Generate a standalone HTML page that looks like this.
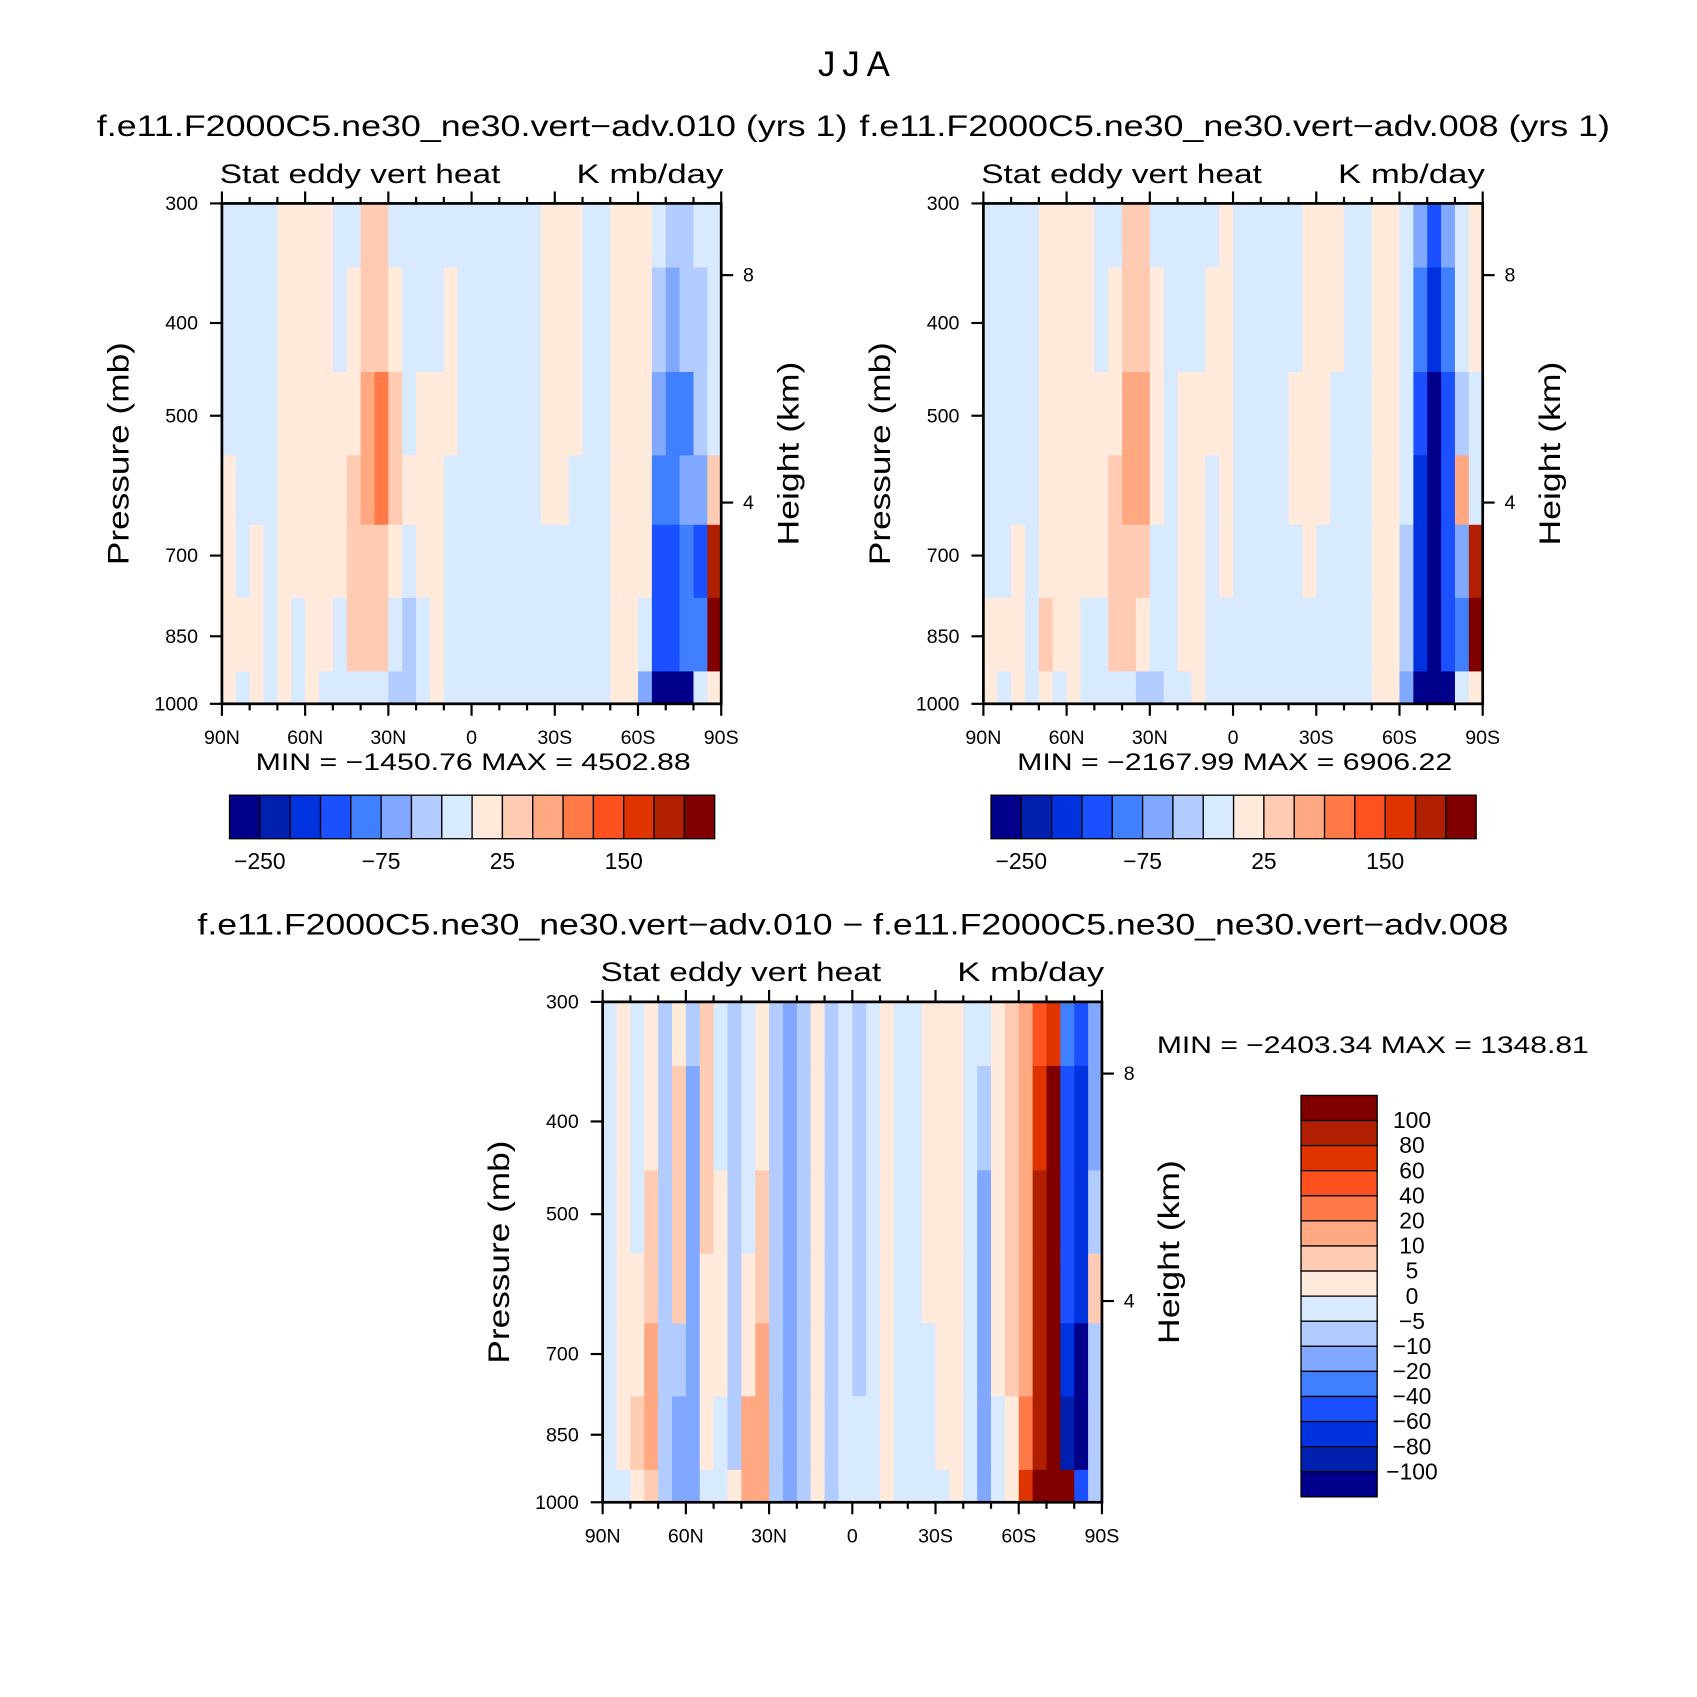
<!DOCTYPE html>
<html><head><meta charset="utf-8"><style>
html,body{margin:0;padding:0;background:#fff}
svg{display:block}
text{font-family:"Liberation Sans","DejaVu Sans",sans-serif;fill:#000}
</style></head><body>
<svg id="fig" xmlns="http://www.w3.org/2000/svg" width="1697" height="1697" viewBox="0 0 1560 1560">
<rect width="1560" height="1560" fill="#fff"/>
<text x="785" y="70" font-size="32" text-anchor="middle" textLength="66" lengthAdjust="spacing">JJA</text>
</svg>
<script>
// ---- data ----
const colors = ["#00008a","#0020b0","#0033e0","#1a50ff","#4080ff","#80a8ff","#b3ccff","#d8eaff","#ffeadb","#ffccb3","#ffa882","#ff7a48","#ff5020","#e03400","#b02000","#800000"];
const levelsAbs = [-250,-200,-150,-100,-75,-50,-25,0,25,50,75,100,150,200,250];
const levelsDiff = [-100,-80,-60,-40,-20,-10,-5,0,5,10,20,40,60,80,100];
const absTickLabels = ["-250","-75","25","150"];
const diffTickLabels = ["100","80","60","40","20","10","5","0","-5","-10","-20","-40","-60","-80","-100"];
const latTicks = ["90N","60N","30N","0","30S","60S","90S"];
const pressTicks = [300,400,500,700,850,1000];
const heightTicks = [8,4];
const rowEdges = [300,350,450,550,650,775,925,1000];
const p1Data = [
[-10,-10,-10,-10,10,10,10,10,-10,-10,30,30,-10,-20,-20,-10,-10,-10,-10,-10,-10,-10,-10,10,10,10,-10,-10,10,10,10,-20,-30,-30,-20,-10],
[-10,-10,-10,-10,10,10,10,10,-10,10,40,40,10,-20,-10,-10,10,-10,-10,-10,-10,-10,-10,10,10,10,-10,-10,10,10,10,-30,-60,-50,-30,-10],
[-10,-10,-10,-10,10,10,10,10,10,10,60,80,30,-10,10,10,10,-10,-10,-10,-10,-10,-10,10,10,10,-10,-10,10,10,10,-60,-100,-80,-40,-10],
[10,-10,-10,-10,10,10,10,10,10,40,60,80,40,10,10,10,-10,-10,-10,-10,-10,-10,-10,10,10,-10,-10,-10,10,10,10,-100,-90,-60,-60,30],
[10,-10,10,-10,10,10,10,10,10,40,40,40,10,-10,10,10,-10,-10,-10,-10,-10,-10,-10,-10,-10,-10,-10,-10,10,10,10,-150,-120,-100,-120,200],
[10,10,10,-10,10,-10,10,10,-10,30,30,30,-10,-40,-20,10,-10,-10,-10,-10,-20,-10,-10,-10,-10,-10,-10,-10,10,10,-20,-150,-120,-100,-100,260],
[10,-10,10,-10,10,-10,10,-10,-10,-10,-10,-20,-40,-40,-20,10,-10,-10,-10,-10,-10,-10,-10,-10,-10,-10,-10,-10,10,10,-60,-300,-300,-300,-10,10]];
const p2Data = [
[-10,-10,-10,-10,10,10,10,10,-10,-10,30,30,-10,-10,-10,-10,-10,10,-10,-10,-10,-10,-10,10,10,10,-10,-10,10,10,-10,-60,-120,-60,-10,10],
[-10,-10,-10,-10,10,10,10,10,-10,10,40,40,10,-10,-10,-10,10,10,-10,-10,-10,-10,-10,10,10,10,-10,-10,10,10,-10,-100,-200,-100,-20,10],
[-10,-10,-10,-10,10,10,10,10,10,10,60,70,20,-10,10,10,10,10,-10,-10,-10,-10,10,10,10,-10,-10,-10,10,10,-20,-150,-260,-150,-40,-10],
[-10,-10,-10,-10,10,10,10,10,10,30,60,60,20,-10,10,10,-10,10,-10,-10,-10,-10,10,10,10,-10,-10,-10,10,10,-20,-200,-260,-150,60,-10],
[-10,-10,10,-10,10,10,10,10,10,30,40,40,-10,-10,10,10,-10,10,-10,-10,-10,-10,-10,10,-10,-10,-10,-10,10,10,-30,-200,-260,-120,-60,200],
[10,10,10,-10,30,10,10,-10,-10,30,30,20,-20,-10,10,10,-10,-10,-10,-10,-20,-10,-10,-10,-10,-10,-10,-10,10,10,-40,-200,-260,-120,-80,260],
[10,-10,10,-10,10,-10,10,-10,-10,-10,-20,-30,-40,-20,-10,10,-10,-10,-10,-10,-10,-10,-10,-10,-10,-10,-10,-10,10,10,-60,-300,-300,-300,-10,10]];
const p3Data = [
[-2,3,-2,3,-6,3,-6,7,-2,-8,-2,3,-8,-12,-6,3,-8,-2,-6,-2,3,-2,-2,3,3,3,-2,-2,3,7,12,50,70,-40,-60,-20],
[-2,3,-2,3,-6,7,-12,7,-2,-8,-2,3,-8,-15,-6,3,-8,-2,-6,-2,3,-2,-2,3,3,3,-2,-8,3,7,15,70,110,-50,-70,-20],
[-2,3,-2,7,-6,7,-15,7,3,-8,-2,7,-8,-15,-6,3,-8,-2,-6,-2,3,-2,-2,3,3,3,-2,-12,3,7,15,80,120,-60,-80,-8],
[-2,3,3,7,-6,7,-15,3,3,-8,3,7,-8,-15,-6,3,-8,-2,-6,-2,3,-2,-2,3,3,3,-2,-15,3,7,15,80,120,-60,-80,7],
[-2,3,3,12,-6,-8,-20,3,3,-8,3,12,-8,-20,-6,3,-6,-2,-6,-2,3,-2,-2,-2,3,3,-2,-20,3,7,15,90,120,-80,-110,-8],
[-2,3,7,12,-6,-12,-20,3,-2,-8,12,15,-8,-20,-6,3,-6,-2,-2,-2,3,-2,-2,-2,3,3,-2,-20,-2,3,30,90,100,-100,-110,-8],
[-2,-2,3,7,-6,-12,-15,-2,-2,3,12,12,-8,-15,-6,3,-6,-2,-2,-2,3,-2,-2,-2,-2,3,-2,-15,-2,3,60,120,120,120,-60,-8]];

// ---- drawing ----
const NS="http://www.w3.org/2000/svg";
const svg=document.getElementById('fig');
function mk(tag,attrs,parent){const e=document.createElementNS(NS,tag);for(const k in attrs)e.setAttribute(k,attrs[k]);(parent||svg).appendChild(e);return e;}
function txt(s,attrs,parent,len){if(len){attrs.textLength=len;attrs.lengthAdjust='spacingAndGlyphs';}const e=mk('text',attrs,parent);e.textContent=s.replace(/-/g,'\u2212');return e;}
function colorFor(v,lev){let i=0;while(i<lev.length&&v>=lev[i])i++;return colors[i];}

function panel(x0,y0,data,lev,titleStr,titleX,titleLen,titleDy,name){
  const W=459,H=460;
  const g=mk('g',{});
  
  
  const xScale=lat=>x0+(90-lat)/180*W;
  const yScale=p=>y0+(Math.log(p)-Math.log(300))/(Math.log(1000)-Math.log(300))*H;
  const ncol=data[0].length;
  data.forEach((row,r)=>{
    row.forEach((v,c)=>{
      const la=90-c*180/ncol, lb=90-(c+1)*180/ncol;
      const xa=xScale(la), xb=xScale(lb);
      const ya=yScale(rowEdges[r]), yb=yScale(rowEdges[r+1]);
      const cell=mk('rect',{x:xa,y:ya,width:xb-xa+0.6,height:yb-ya+0.6,fill:colorFor(v,lev)},g);
      
      
    });
  });
  const fr=mk('rect',{x:x0,y:y0,width:W,height:H,fill:'none',stroke:'#000','stroke-width':2.5},g);
  
  
  for(let lat=90;lat>=-90;lat-=10){
    const x=xScale(lat), major=lat%30===0;
    const L=major?11:6;
    mk('line',{x1:x,y1:y0+H,x2:x,y2:y0+H+L,stroke:'#000','stroke-width':2},g);
    mk('line',{x1:x,y1:y0,x2:x,y2:y0-L,stroke:'#000','stroke-width':2},g);
  }
  latTicks.forEach((s,i)=>{
    const t=txt(s,{x:xScale(90-i*30),y:y0+H+37,'font-size':18,'text-anchor':'middle'},g);
    
    
  });
  pressTicks.forEach(p=>{
    const y=yScale(p);
    mk('line',{x1:x0-11,y1:y,x2:x0,y2:y,stroke:'#000','stroke-width':2},g);
    const t=txt(String(p),{x:x0-22,y:y+6,'font-size':18,'text-anchor':'end'},g);
    
    
  });
  heightTicks.forEach(h=>{
    const p=1065*Math.exp(-h/7.31);
    const y=yScale(p);
    mk('line',{x1:x0+W,y1:y,x2:x0+W+11,y2:y,stroke:'#000','stroke-width':2},g);
    const t=txt(String(h),{x:x0+W+20,y:y+6,'font-size':18},g);
    
    
  });
  let t=txt('Pressure (mb)',{transform:`translate(${x0-86},${y0+H/2}) rotate(-90)`,'font-size':27,'text-anchor':'middle'},g,205);
  
  t=txt('Height (km)',{transform:`translate(${x0+W+71},${y0+H/2}) rotate(-90)`,'font-size':27,'text-anchor':'middle'},g,169);
  
  t=txt('Stat eddy vert heat',{x:x0-2,y:y0-19,'font-size':25},g,258);
  
  t=txt('K mb/day',{x:x0+W+2,y:y0-19,'font-size':25,'text-anchor':'end'},g,135);
  
  t=txt(titleStr,{x:titleX,y:y0-titleDy,'font-size':27,'text-anchor':'middle'},g,titleLen);
  
}
function hbar(x0,y0,mmStr){
  const W=446,H=40,bw=W/16;
  const g=mk('g',{});
  
  
  colors.forEach((c,i)=>{
    const r=mk('rect',{x:x0+i*bw,y:y0,width:bw,height:H,fill:c,stroke:'#000','stroke-width':1.2},g);
    
  });
  absTickLabels.forEach((s,i)=>{
    const t=txt(s,{x:x0+(1+4*i)*bw,y:y0+H+28,'font-size':21,'text-anchor':'middle'},g);
    
  });
  const t=txt(mmStr,{x:x0+W/2+1,y:y0-23,'font-size':22,'text-anchor':'middle'},null,400);
  
}
panel(204,187,p1Data,levelsAbs,'f.e11.F2000C5.ne30_ne30.vert-adv.010 (yrs 1)',434,690,62,'panel-010');
panel(904,187,p2Data,levelsAbs,'f.e11.F2000C5.ne30_ne30.vert-adv.008 (yrs 1)',1135,690,62,'panel-008');
panel(554,921,p3Data,levelsDiff,'f.e11.F2000C5.ne30_ne30.vert-adv.010 - f.e11.F2000C5.ne30_ne30.vert-adv.008',784,1205,62,'panel-diff');
hbar(211,731,'MIN = -1450.76   MAX = 4502.88');
hbar(911,731,'MIN = -2167.99   MAX = 6906.22');
(function(){
  const x0=1196,y0=1007,W=70,H=369,bh=H/16;
  const g=mk('g',{});
  
  
  colors.slice().reverse().forEach((c,i)=>{
    const r=mk('rect',{x:x0,y:y0+i*bh,width:W,height:bh,fill:c,stroke:'#000','stroke-width':1.2},g);
    
  });
  diffTickLabels.forEach((s,i)=>{
    const t=txt(s,{x:1298,y:y0+(i+1)*bh+7,'font-size':21,'text-anchor':'middle'},g);
    
  });
  const t=txt('MIN = -2403.34   MAX = 1348.81',{x:1262,y:968,'font-size':22,'text-anchor':'middle'},null,397);
  
})();
</script>
</body></html>
